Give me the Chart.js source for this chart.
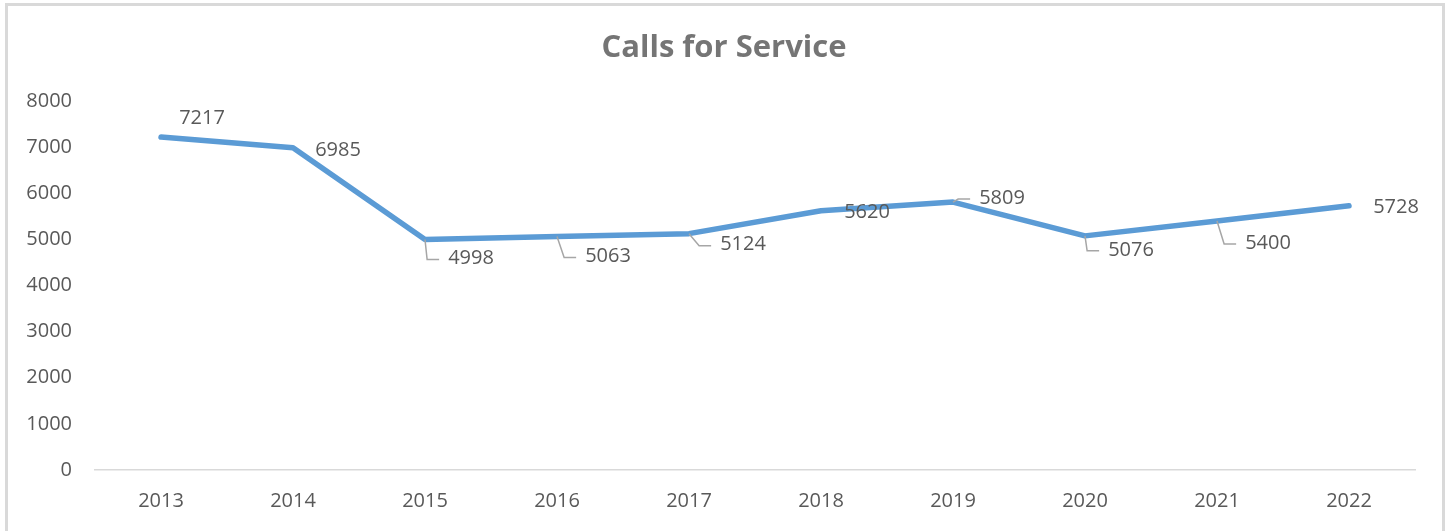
<!DOCTYPE html>
<html>
<head>
<meta charset="utf-8">
<script src="https://cdn.jsdelivr.net/npm/chart.js@4/dist/chart.umd.min.js"></script>
<style>
  html, body { margin: 0; padding: 0; background: #fff; }
  #wrap { position: relative; width: 1447px; height: 531px; }
</style>
</head>
<body>
<div id="wrap"><canvas id="calls" width="1447" height="531"></canvas></div>
<script>
// yearly totals
const years = ['2013', '2014', '2015', '2016', '2017', '2018', '2019', '2020', '2021', '2022'];
const calls = [7217, 6985, 4998, 5063, 5124, 5620, 5809, 5076, 5400, 5728];

// where each value label sits relative to its point, and whether it gets a leader line
const labelOffsets = [[41, -19], [45, 2], [46, 19], [51, 20], [54, 11], [46, 2], [49, -4], [46, 14], [51, 22], [47, 2]];
const hasLeader = [false, false, true, true, true, false, true, true, true, false];

const textFont = '"Open Sans", "DejaVu Sans", sans-serif';
const textColor = '#595959';

const frame = {
    id: 'frame',
    beforeDraw(chart) {
        const ctx = chart.ctx;
        ctx.save();
        ctx.strokeStyle = '#d9d9d9';
        ctx.lineWidth = 3;
        ctx.beginPath();
        ctx.moveTo(6.5, 531);
        ctx.lineTo(6.5, 4.5);
        ctx.lineTo(1443.5, 4.5);
        ctx.lineTo(1443.5, 531);
        ctx.stroke();

        ctx.fillStyle = '#757575';
        ctx.font = 'bold 31px ' + textFont;
        ctx.textAlign = 'center';
        ctx.textBaseline = 'middle';
        ctx.fillText('Calls for Service', 724, 48);
        ctx.restore();
    }
};

const valueLabels = {
    id: 'valueLabels',
    afterDatasetsDraw(chart) {
        const ctx = chart.ctx;
        const meta = chart.getDatasetMeta(0);
        ctx.save();
        ctx.font = '20px ' + textFont;
        ctx.textBaseline = 'middle';
        ctx.textAlign = 'center';
        meta.data.forEach((pt, i) => {
            const text = String(calls[i]);
            const cx = pt.x + labelOffsets[i][0];
            const cy = pt.y + labelOffsets[i][1];
            if (hasLeader[i]) {
                const left = cx - ctx.measureText(text).width / 2;
                ctx.strokeStyle = '#a6a6a6';
                ctx.lineWidth = 1.5;
                ctx.beginPath();
                ctx.moveTo(pt.x, pt.y);
                ctx.lineTo(left - 21, cy + 1);
                ctx.lineTo(left - 9, cy + 1);
                ctx.stroke();
            }
            ctx.fillStyle = textColor;
            ctx.fillText(text, cx, cy);
        });
        ctx.restore();
    }
};

new Chart(document.getElementById('calls'), {
    type: 'line',
    data: {
        labels: years,
        datasets: [{
            data: calls,
            borderColor: '#5b9bd5',
            borderWidth: 5.5,
            borderCapStyle: 'round',
            borderJoinStyle: 'round',
            pointRadius: 0,
            tension: 0
        }]
    },
    options: {
        responsive: false,
        animation: false,
        layout: { padding: { top: 101, right: 32, bottom: 0, left: 0 } },
        plugins: {
            legend: { display: false },
            title: { display: false },
            tooltip: { enabled: false }
        },
        scales: {
            x: {
                offset: true,
                grid: { display: false, drawTicks: false },
                border: { display: true, color: '#d9d9d9', width: 1.5 },
                ticks: {
                    color: textColor,
                    font: { family: textFont, size: 20 },
                    padding: 19,
                    maxRotation: 0
                },
                afterFit(scale) { scale.height = 61; }
            },
            y: {
                min: 0,
                max: 8000,
                grid: { display: false, drawTicks: false },
                border: { display: false },
                ticks: {
                    stepSize: 1000,
                    color: textColor,
                    font: { family: textFont, size: 20 },
                    padding: 23,
                    callback: (v) => String(v)
                },
                afterFit(scale) { scale.width = 95; }
            }
        }
    },
    plugins: [frame, valueLabels]
});
</script>
</body>
</html>
